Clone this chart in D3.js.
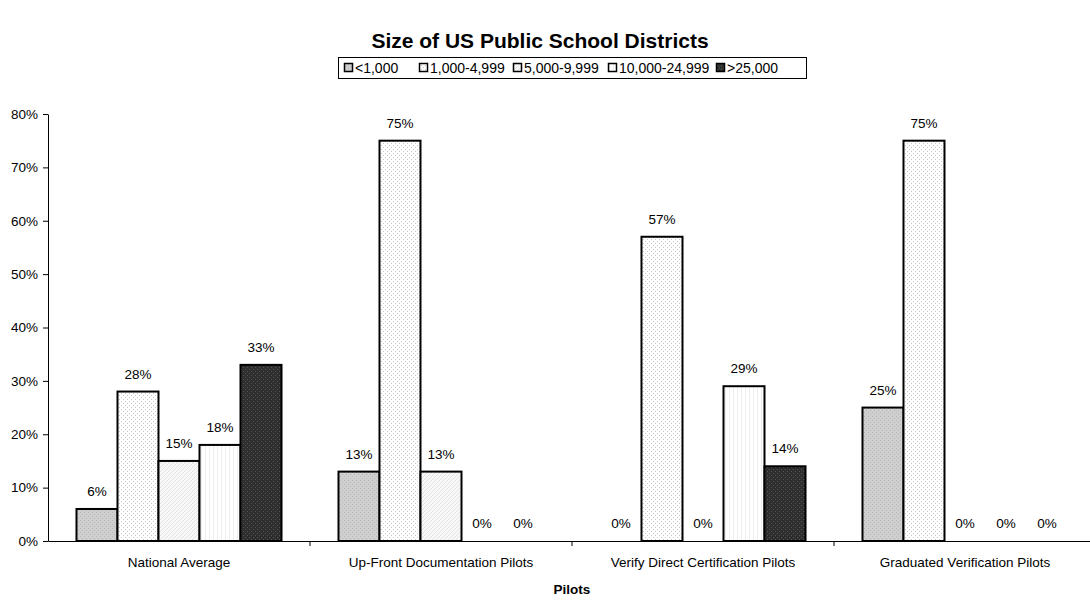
<!DOCTYPE html>
<html><head><meta charset="utf-8">
<script src="https://cdn.jsdelivr.net/npm/d3@7"></script>
<style>body{margin:0;background:#fff}svg{font-family:"Liberation Sans",Arial,sans-serif}</style>
</head><body><svg id="c" width="1090" height="600"></svg>
<script>
const categories = ["National Average","Up-Front Documentation Pilots","Verify Direct Certification Pilots","Graduated Verification Pilots"];
const seriesNames = ["<1,000","1,000-4,999","5,000-9,999","10,000-24,999",">25,000"];
const s1 = [6, 13, 0, 25];
const s2 = [28, 75, 57, 75];
const s3 = [15, 13, 0, 0];
const s4 = [18, 0, 29, 0];
const s5 = [33, 0, 14, 0];
const seriesValues = [s1, s2, s3, s4, s5];
const yTicks = [0,10,20,30,40,50,60,70,80];

(function(){
const FS = 13.5;
const svg = d3.select("#c");
const defs = svg.append("defs");
function pat(id, bg, draw){
  const p = defs.append("pattern").attr("id", id).attr("patternUnits","userSpaceOnUse").attr("width",4).attr("height",4);
  p.append("rect").attr("width",4).attr("height",4).attr("fill",bg);
  draw(p);
}
pat("p0","#cfcfcf",p=>{p.append("rect").attr("x",0).attr("y",0).attr("width",1).attr("height",1).attr("fill","#b8b8b8");p.append("rect").attr("x",2).attr("y",2).attr("width",1).attr("height",1).attr("fill","#b8b8b8");});
pat("p1","#ffffff",p=>{p.append("rect").attr("x",1).attr("y",1).attr("width",1).attr("height",1).attr("fill","#c8c8c8");p.append("rect").attr("x",3).attr("y",3).attr("width",1).attr("height",1).attr("fill","#c8c8c8");});
pat("p2","#f8f8f8",p=>{p.append("path").attr("d","M0,4L4,0M-1,1L1,-1M3,5L5,3").attr("stroke","#dcdcdc").attr("stroke-width",0.8);});
pat("p3","#ffffff",p=>{p.append("rect").attr("x",1).attr("y",0).attr("width",1).attr("height",4).attr("fill","#eeeeee");});
pat("p4","#2e2e2e",p=>{p.append("rect").attr("x",1).attr("y",1).attr("width",1).attr("height",1).attr("fill","#555");p.append("rect").attr("x",3).attr("y",3).attr("width",1).attr("height",1).attr("fill","#555");});
const fills = ["url(#p0)","url(#p1)","url(#p2)","url(#p3)","url(#p4)"];

const pLeft = 48, pRight = 1096, pTop = 114, pBottom = 541;
const x0 = d3.scaleBand().domain(categories).range([pLeft, pRight]).paddingInner(0).paddingOuter(0);
const x1 = d3.scaleBand().domain(seriesNames).range([0, x0.bandwidth()]).paddingOuter(0.695).paddingInner(0);
const y = d3.scaleLinear().domain([0, 80]).range([pBottom, pTop]);

svg.append("text").attr("x", 540).attr("y", 48).attr("text-anchor","middle").attr("font-size",21).attr("font-weight","bold").text("Size of US Public School Districts");

categories.forEach((c, ci) => {
  seriesNames.forEach((s, si) => {
    const v = seriesValues[si][ci];
    const bx = x0(c) + x1(s);
    if (v > 0) {
      svg.append("rect").attr("x", bx).attr("y", y(v)).attr("width", x1.bandwidth()).attr("height", y(0) - y(v))
        .attr("fill", fills[si]).attr("stroke", "#000").attr("stroke-width", 2);
    }
    svg.append("text").attr("x", bx + x1.bandwidth()/2).attr("y", y(v) - 13).attr("text-anchor","middle")
      .attr("font-size", FS).attr("fill","#000").text(v + "%");
  });
});

const ya = svg.append("g").attr("transform", `translate(${pLeft},0)`)
  .call(d3.axisLeft(y).tickValues(yTicks).tickFormat(d => d + "%").tickSize(5).tickSizeOuter(0));
ya.select(".domain").attr("stroke","#000");
ya.selectAll("line").attr("stroke","#000");
ya.selectAll("text").attr("font-size",FS).attr("font-family","Liberation Sans, Arial, sans-serif").attr("fill","#000").attr("x",-10);

const xa = svg.append("g").attr("transform", `translate(0,${pBottom})`)
  .call(d3.axisBottom(x0).tickSize(0).tickSizeOuter(0));
xa.select(".domain").attr("stroke","#000");
xa.selectAll("text").attr("font-size",FS).attr("font-family","Liberation Sans, Arial, sans-serif").attr("fill","#000").attr("dy","0").attr("y",26);
categories.slice(1).forEach(c => {
  svg.append("line").attr("x1", x0(c)).attr("x2", x0(c)).attr("y1", pBottom).attr("y2", pBottom + 5).attr("stroke", "#000");
});

svg.append("text").attr("x", 572).attr("y", 594).attr("text-anchor","middle").attr("font-size",FS).attr("font-weight","bold").text("Pilots");

const lg = svg.append("g");
lg.append("rect").attr("x", 338.5).attr("y", 57.5).attr("width", 468).attr("height", 21).attr("fill","#fff").attr("stroke","#000");
const legX = [344, 419, 513, 608, 716];
seriesNames.forEach((s, si) => {
  lg.append("rect").attr("x", legX[si] + 0.5).attr("y", 63.5).attr("width", 8).attr("height", 8).attr("fill", fills[si]).attr("stroke","#000").attr("stroke-width",1.5);
  lg.append("text").attr("x", legX[si] + 11).attr("y", 73).attr("font-size", 14).text(s);
});
})();
</script></body></html>
